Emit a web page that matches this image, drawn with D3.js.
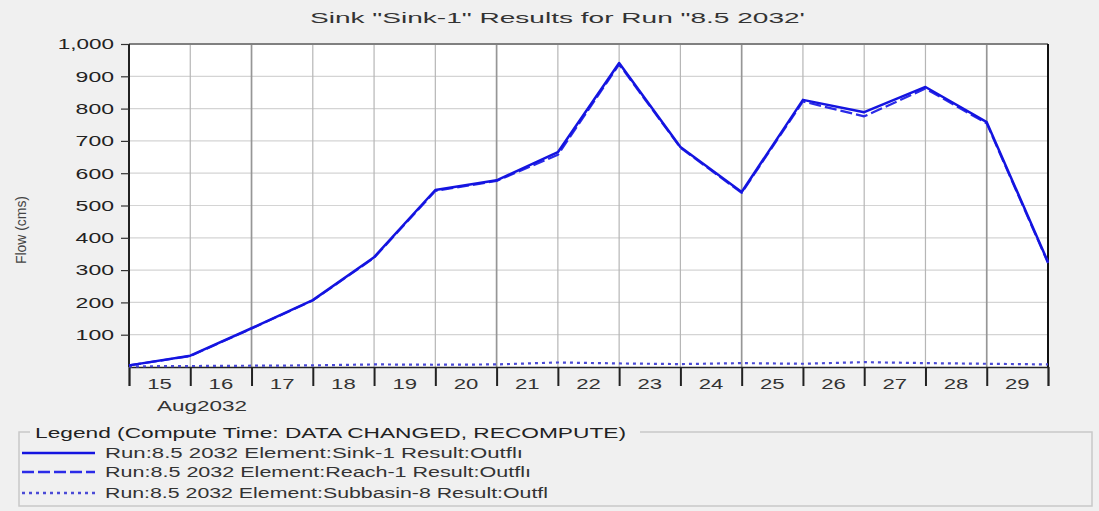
<!DOCTYPE html>
<html>
<head>
<meta charset="utf-8">
<script src="https://cdn.jsdelivr.net/npm/d3@7"></script>
<style>
  html, body { margin: 0; padding: 0; background: #f0f0f0; }
  svg { display: block; font-family: "Liberation Sans", Arial, sans-serif; }
</style>
</head>
<body>
<svg id="chart" width="1099" height="511"></svg>
<script>
// Daily outflow values at midnight, 15 Aug 2032 .. 30 Aug 2032 (cms)
const dates = ["2032-08-15","2032-08-16","2032-08-17","2032-08-18","2032-08-19","2032-08-20",
               "2032-08-21","2032-08-22","2032-08-23","2032-08-24","2032-08-25","2032-08-26",
               "2032-08-27","2032-08-28","2032-08-29","2032-08-30"];
const sink1     = [5, 35, 120, 207, 340, 548, 578, 665, 941, 681, 542, 827, 789, 867, 758, 325];
const reach1    = [5, 34, 119, 206, 338, 545, 576, 657, 937, 679, 539, 822, 776, 862, 754, 322];
const subbasin8 = [2, 3, 4, 5, 8, 7, 8, 14, 11, 9, 12, 10, 15, 12, 10, 8];
const yTicks = [100, 200, 300, 400, 500, 600, 700, 800, 900, 1000];
const dayLabels = ["15","16","17","18","19","20","21","22","23","24","25","26","27","28","29"];
const monthLabel = "Aug2032";
const titleText = 'Sink "Sink-1" Results for Run "8.5 2032\'';
const yLabel = "Flow (cms)";
const legendTitle = "Legend (Compute Time: DATA CHANGED, RECOMPUTE)";
const legendNames = [
  "Run:8.5 2032 Element:Sink-1 Result:Outfl\u0131",
  "Run:8.5 2032 Element:Reach-1 Result:Outfl\u0131",
  "Run:8.5 2032 Element:Subbasin-8 Result:Outfl"
];

const parse = d3.utcParse("%Y-%m-%d");
const times = dates.map(parse);

const svg = d3.select("#chart");
const L = 129, R = 1048, T = 44, B = 367;

const x = d3.scaleUtc().domain([times[0], times[times.length - 1]]).range([L, R]);
const y = d3.scaleLinear().domain([0, 1000]).range([B, T]);

// Wide, slightly stretched label text
const wideLen = s => s.replace(/[^0-9A-Za-z]/g, "").length * 12.8 + s.replace(/[0-9A-Za-z]/g, "").length * 5;

// Plot background
svg.append("rect").attr("x", L).attr("y", T).attr("width", R - L).attr("height", B - T)
  .attr("fill", "#ffffff");

// Horizontal grid
svg.append("g").selectAll("line").data(yTicks).join("line")
  .attr("x1", L).attr("x2", R)
  .attr("y1", d => y(d)).attr("y2", d => y(d))
  .attr("stroke", "#d4d4d4").attr("stroke-width", 1.2);

// Vertical grid at day boundaries (every fourth one heavier)
const dayTimes = times.slice(1, -1);
svg.append("g").selectAll("line").data(dayTimes).join("line")
  .attr("x1", d => x(d)).attr("x2", d => x(d))
  .attr("y1", T).attr("y2", B)
  .attr("stroke", (d, i) => (i % 4 === 1 ? "#969696" : "#b6b6b6"))
  .attr("stroke-width", (d, i) => (i % 4 === 1 ? 1.7 : 1.2));

// Frame
svg.append("line").attr("x1", L).attr("x2", R).attr("y1", T).attr("y2", T)
  .attr("stroke", "#808080").attr("stroke-width", 2);
svg.append("line").attr("x1", L).attr("x2", L).attr("y1", T).attr("y2", B)
  .attr("stroke", "#222").attr("stroke-width", 2);
svg.append("line").attr("x1", R).attr("x2", R).attr("y1", T).attr("y2", B)
  .attr("stroke", "#111").attr("stroke-width", 2);

// Y axis
const yAxis = d3.axisLeft(y).tickValues(yTicks).tickSize(8).tickPadding(7)
  .tickFormat(d3.format(","));
const gy = svg.append("g").attr("transform", `translate(${L},0)`).call(yAxis);
gy.select(".domain").remove();
gy.selectAll(".tick line").attr("stroke", "#333").attr("stroke-width", 1.2);
gy.selectAll(".tick text").attr("font-size", 15).attr("fill", "#222")
  .attr("font-family", "'Liberation Sans', Arial, sans-serif")
  .attr("textLength", function() { return wideLen(this.textContent); })
  .attr("lengthAdjust", "spacingAndGlyphs");

// X axis: ticks at each midnight, day labels centred in each day
const xAxis = d3.axisBottom(x).tickValues(times).tickSize(19).tickFormat("");
const gx = svg.append("g").attr("transform", `translate(0,${B})`).call(xAxis);
gx.select(".domain").attr("stroke", "#222").attr("stroke-width", 1.5);
gx.selectAll(".tick line").attr("stroke", "#222").attr("stroke-width", 2);

svg.append("g").selectAll("text").data(dayLabels).join("text")
  .attr("x", (d, i) => (x(times[i]) + x(times[i + 1])) / 2)
  .attr("y", 389)
  .attr("text-anchor", "middle")
  .attr("font-size", 15).attr("fill", "#333")
  .attr("textLength", d => wideLen(d) - 1).attr("lengthAdjust", "spacingAndGlyphs")
  .text(d => d);

svg.append("text").attr("x", 202).attr("y", 411).attr("text-anchor", "middle")
  .attr("font-size", 15).attr("fill", "#333")
  .attr("textLength", 90).attr("lengthAdjust", "spacingAndGlyphs")
  .text(monthLabel);

// Title
svg.append("text").attr("x", 310).attr("y", 23)
  .attr("font-size", 15).attr("fill", "#333")
  .attr("textLength", 495).attr("lengthAdjust", "spacingAndGlyphs")
  .text(titleText);

// Y label (narrow)
svg.append("text")
  .attr("transform", "translate(26,230) rotate(-90)")
  .attr("text-anchor", "middle")
  .attr("font-size", 14).attr("fill", "#444")
  .attr("textLength", 68).attr("lengthAdjust", "spacingAndGlyphs")
  .text(yLabel);

// Series
const series = [
  { values: subbasin8, color: "#4a4ad6", width: 2.2, dash: "3,4" },
  { values: reach1,    color: "#2b2be8", width: 2.2, dash: "12,4" },
  { values: sink1,     color: "#1414e0", width: 2.5, dash: null }
];
const line = d3.line().x((d, i) => x(times[i])).y(d => y(d));
svg.append("g").selectAll("path").data(series).join("path")
  .attr("d", s => line(s.values))
  .attr("fill", "none")
  .attr("stroke", s => s.color)
  .attr("stroke-width", s => s.width)
  .attr("stroke-dasharray", s => s.dash)
  .attr("stroke-linejoin", "round");

// Legend box with titled border
const lg = svg.append("g");
lg.append("path")
  .attr("d", "M30,432 H19 V506 H1092 V432 H640")
  .attr("fill", "none").attr("stroke", "#c8c8c8").attr("stroke-width", 1.5);
lg.append("text").attr("x", 35).attr("y", 438)
  .attr("font-size", 15).attr("fill", "#222")
  .attr("textLength", 591).attr("lengthAdjust", "spacingAndGlyphs")
  .text(legendTitle);

const legendItems = [
  { name: legendNames[0], s: series[2], y: 453 },
  { name: legendNames[1], s: series[1], y: 472 },
  { name: legendNames[2], s: series[0], y: 493 }
];
const li = lg.selectAll("g.item").data(legendItems).join("g").attr("class", "item");
li.append("line")
  .attr("x1", 22).attr("x2", 95)
  .attr("y1", d => d.y).attr("y2", d => d.y)
  .attr("stroke", d => d.s.color).attr("stroke-width", 2.4)
  .attr("stroke-dasharray", d => d.s.dash);
li.append("text")
  .attr("x", 105).attr("y", d => d.y + 5)
  .attr("font-size", 14).attr("fill", "#333")
  .attr("textLength", (d, i) => [418, 426, 443][i]).attr("lengthAdjust", "spacingAndGlyphs")
  .text(d => d.name);
</script>
</body>
</html>
